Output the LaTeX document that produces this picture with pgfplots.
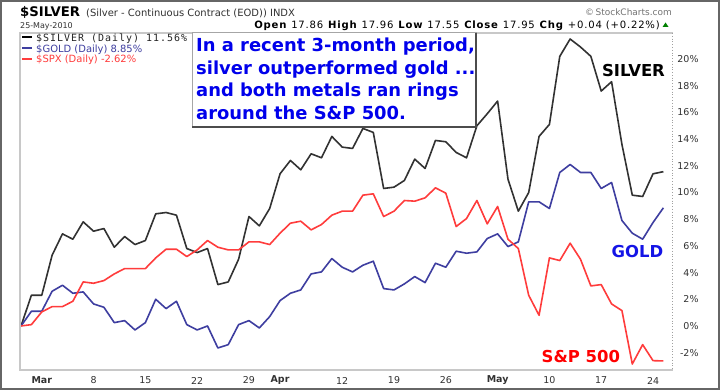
\documentclass[border=0pt]{standalone}
\usepackage{pgfplots}
\pgfplotsset{compat=1.18}
\usepackage{pgfplotstable}
\usepackage{fontspec}
\setmainfont{DejaVu Sans}
\newfontfamily\legmono[LetterSpace=10]{DejaVu Sans Mono}
\newfontfamily\hdrfont[LetterSpace=8]{DejaVu Sans}
\definecolor{silverc}{RGB}{50,50,50}
\definecolor{goldc}{RGB}{62,62,160}
\definecolor{spxc}{RGB}{255,60,60}
\definecolor{annblue}{RGB}{0,0,235}
\definecolor{labblue}{RGB}{20,20,230}
\definecolor{framegray}{RGB}{200,200,200}
\definecolor{txtgray}{RGB}{50,50,50}

\pgfplotstableread{
i silver gold spx
0 0 0 0
1 2.3 1.1 0.1
2 2.3 1.1 1.05
3 5.3 2.6 1.45
4 6.9 3.05 1.45
5 6.5 2.45 1.85
6 7.8 2.55 3.3
7 7.1 1.65 3.2
8 7.3 1.4 3.4
9 5.9 0.25 3.9
10 6.7 0.4 4.3
11 6.1 -0.3 4.3
12 6.4 0.25 4.3
13 8.4 2.0 5.1
14 8.5 1.3 5.75
15 8.3 1.85 5.75
16 5.8 0.1 5.2
17 5.5 -0.3 5.7
18 5.8 0.0 6.4
19 3.1 -1.65 5.9
20 3.3 -1.4 5.7
21 5.0 0.1 5.7
22 8.2 0.4 6.3
23 7.5 -0.15 6.3
24 8.8 0.7 6.1
25 11.4 1.9 6.95
26 12.4 2.45 7.7
27 11.7 2.7 7.85
28 12.9 3.9 7.2
29 12.6 4.05 7.6
30 14.2 5.05 8.3
31 13.4 4.4 8.6
32 13.3 4.05 8.6
33 14.8 4.55 9.8
34 14.5 4.85 9.9
35 10.3 2.8 8.2
36 10.4 2.7 8.6
37 10.9 3.15 9.4
38 12.5 3.7 9.35
39 11.8 3.25 9.6
40 13.9 4.7 10.35
41 13.8 4.4 9.95
42 13.0 5.6 7.45
43 12.6 5.45 8.05
44 15.0 5.55 9.4
45 15.9 6.55 7.65
46 16.85 6.9 8.95
47 11.0 5.95 6.5
48 8.6 6.3 5.8
49 10.0 9.3 2.3
50 14.2 9.3 0.8
51 15.1 8.8 5.1
52 20.2 11.5 4.9
53 21.5 12.1 6.2
54 20.9 11.5 5.0
55 20.2 11.5 3.0
56 17.6 10.3 3.1
57 18.3 10.75 1.65
58 13.6 7.9 1.15
59 9.8 6.95 -2.85
60 9.7 6.5 -1.4
61 11.4 7.75 -2.6
62 11.56 8.85 -2.62
}\mydata

\begin{document}
\begin{tikzpicture}[x=1bp,y=1bp]
\useasboundingbox (0,0) rectangle (720,390);
\fill[white] (0,0) rectangle (720,390);
\begin{axis}[
  at={(20bp,20bp)}, anchor=south west, scale only axis,
  width=652.7bp, height=337bp,
  xmin=-0.1, xmax=62.9, ymin=-3.3, ymax=21.95,
  axis line style={draw=none},
  major tick length=0pt,
  xtick={2,7,12,17,22,25,31,36,41,46,51,56,61},
  xticklabels={\textbf{Mar},8,15,22,29,\textbf{Apr},12,19,26,\textbf{May},10,17,24},
  ytick={-2,0,2,4,6,8,10,12,14,16,18,20},
  yticklabels={-2\%,0\%,2\%,4\%,6\%,8\%,10\%,12\%,14\%,16\%,18\%,20\%},
  yticklabel pos=right,
  ticklabel style={font=\fontsize{9.5}{11}\selectfont, text=txtgray},
  yticklabel style={anchor=east, inner sep=0pt, xshift=26bp},
  xticklabel style={anchor=center, inner sep=0pt, yshift=-10.5bp},
]
\addplot[color=silverc, line width=1.6bp, line join=round] table[x=i,y=silver]{\mydata};
\addplot[color=goldc, line width=1.6bp, line join=round] table[x=i,y=gold]{\mydata};
\addplot[color=spxc, line width=1.6bp, line join=round] table[x=i,y=spx]{\mydata};
\end{axis}
% plot frame
\draw[framegray, line width=1.2bp] (672.7,357) -- (20,357) -- (20,20) -- (672.7,20);
\draw[framegray!80!black, line width=0.8bp, dotted] (672.7,357) -- (672.7,20);
% outer border
\draw[line width=2bp, color=black!60] (1,1) rectangle (719,389);
% header
\node[anchor=base west, inner sep=0] at (20,373.3) {\fontsize{13.3}{15}\selectfont\bfseries \$SILVER};
\node[anchor=base west, inner sep=0, text=txtgray] at (86,373.3) {\fontsize{10}{12}\selectfont (Silver - Continuous Contract (EOD)) INDX};
\node[anchor=base west, inner sep=0, text=txtgray] at (20,362) {\fontsize{8}{10}\selectfont 25-May-2010};
\node[anchor=base east, inner sep=0, text=black] at (660,362) {\fontsize{10.1}{11}\hdrfont \textbf{Open} 17.86 \textbf{High} 17.96 \textbf{Low} 17.55 \textbf{Close} 17.95 \textbf{Chg} +0.04 (+0.22\%)};
\fill[green!50!black] (662.5,363) -- (668.5,363) -- (665.5,367.5) -- cycle;
\node[anchor=base east, inner sep=0, text=black!55] at (672,375) {\fontsize{9}{11}\selectfont ©\,StockCharts.com};
% legend
\draw[black, line width=2bp] (22,352.7) -- (32,352.7);
\node[anchor=base west, inner sep=0, text=black!85] at (36,348.8) {\fontsize{10}{12}\legmono \$SILVER (Daily) 11.56\%};
\draw[goldc, line width=2bp] (22,341.7) -- (32,341.7);
\node[anchor=base west, inner sep=0, text=goldc] at (36,338) {\fontsize{10}{12}\selectfont \$GOLD (Daily) 8.85\%};
\draw[spxc, line width=2bp] (22,330.7) -- (32,330.7);
\node[anchor=base west, inner sep=0, text=spxc] at (36,327.5) {\fontsize{10}{12}\selectfont \$SPX (Daily) -2.62\%};
% annotation box
\draw[fill=white, draw=black!35, line width=1bp] (192,357) rectangle (476,263);
\draw[black!70, line width=2bp] (476,357) -- (476,263) -- (192,263);
\node[anchor=base west, inner sep=0, text=annblue] at (196,338.3) {\fontsize{18}{22}\selectfont\bfseries In a recent 3-month period,};
\node[anchor=base west, inner sep=0, text=annblue] at (196,315.7) {\fontsize{18}{22}\selectfont\bfseries silver outperformed gold ...};
\node[anchor=base west, inner sep=0, text=annblue] at (196,293.3) {\fontsize{18}{22}\selectfont\bfseries and both metals ran rings};
\node[anchor=base west, inner sep=0, text=annblue] at (196,270.7) {\fontsize{18}{22}\selectfont\bfseries around the S\&P 500.};
% series labels
\node[anchor=base, inner sep=0, text=black] at (633.5,313.3) {\fontsize{16.5}{18}\selectfont\bfseries SILVER};
\node[anchor=base, inner sep=0, text=labblue] at (637.5,132.7) {\fontsize{16.5}{18}\selectfont\bfseries GOLD};
\node[anchor=base, inner sep=0, text=red] at (580.8,27.3) {\fontsize{16.5}{18}\selectfont\bfseries S\&P 500};
\end{tikzpicture}
\end{document}
